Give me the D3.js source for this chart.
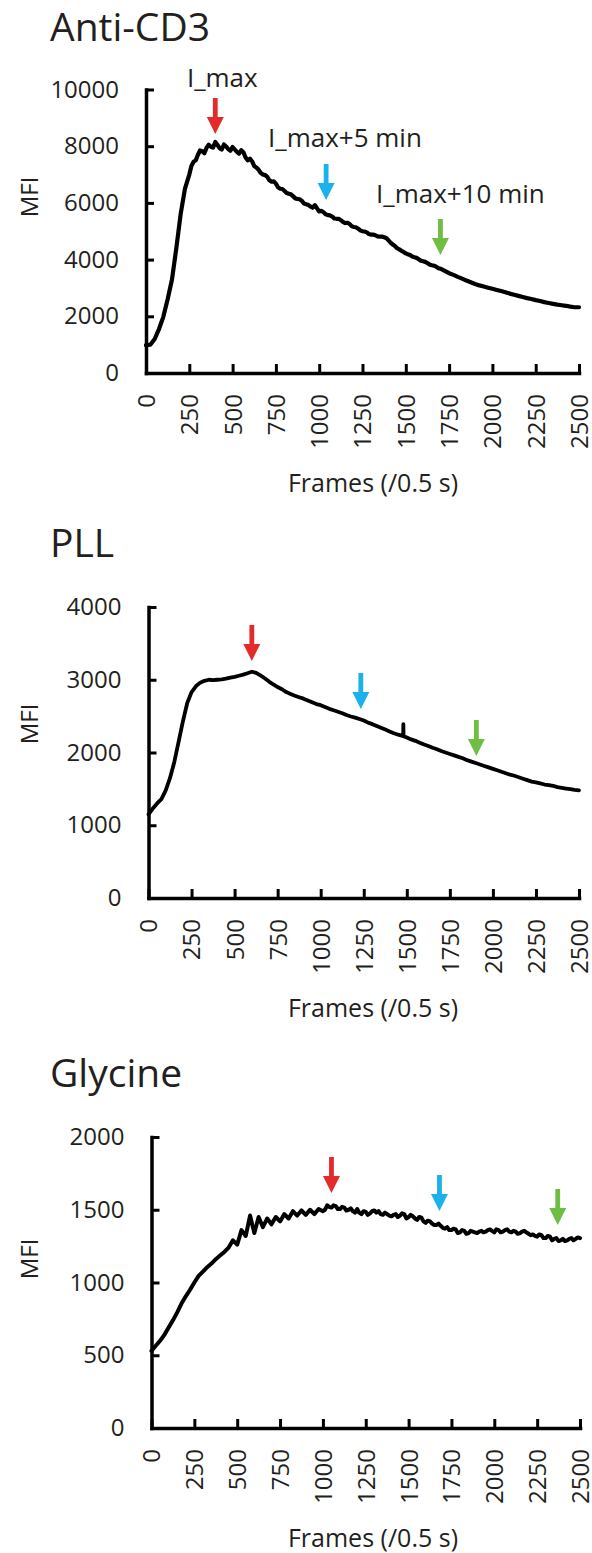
<!DOCTYPE html>
<html>
<head>
<meta charset="utf-8">
<script src="https://cdn.jsdelivr.net/npm/d3@7"></script>
<style>
  html, body { margin: 0; padding: 0; background: #fff; }
  svg { display: block; }
  text { font-family: "Open Sans", "Noto Sans", sans-serif; fill: #231f20; }
</style>
</head>
<body>
<svg id="fig" width="592" height="1553"></svg>
<script>
// ---- Data: [frame, MFI] traces, 0.5 s per frame ----
const antiCd3 = [
  [0,980],[25,1000],[50,1200],[75,1550],[100,1980],[125,2600],[150,3300],[175,4400],[200,5600],[225,6500],
  [250,7000],[275,7450],[300,7700],[325,7820],[350,7950],[375,7980],[400,8150],[425,7930],[450,8060],[475,7900],
  [500,7970],[525,7800],[550,7860],[575,7600],[600,7560],[625,7300],[650,7170],[675,7000],[700,6920],[725,6750],
  [750,6680],[775,6500],[800,6420],[825,6320],[850,6230],[875,6140],[900,6070],[925,5950],[950,5870],[975,5920],
  [1000,5700],[1025,5670],[1050,5570],[1075,5520],[1100,5440],[1125,5390],[1150,5290],[1175,5260],[1200,5150],[1225,5090],
  [1250,5000],[1275,4960],[1300,4880],[1325,4860],[1350,4810],[1375,4790],[1400,4680],[1425,4530],[1450,4400],[1475,4310],
  [1500,4220],[1525,4160],[1550,4080],[1575,4010],[1600,3940],[1625,3880],[1650,3800],[1675,3750],[1700,3680],[1725,3600],
  [1750,3520],[1775,3460],[1800,3390],[1825,3330],[1850,3260],[1875,3200],[1900,3140],[1925,3090],[1950,3050],[1975,3010],
  [2000,2970],[2025,2930],[2050,2890],[2075,2850],[2100,2800],[2125,2760],[2150,2720],[2175,2680],[2200,2640],[2225,2610],
  [2250,2570],[2275,2540],[2300,2500],[2325,2470],[2350,2440],[2375,2410],[2400,2390],[2425,2370],[2450,2340],[2475,2320],
  [2500,2320]
];
// extra samples through the noisy plateau and decay
const antiCd3Fine = [
  [262,7300],[287,7500],[312,7850],[337,7750],[362,8050],[387,7950],[412,8050],[437,7880],[462,7990],[487,7840],
  [512,7890],[537,7740],[562,7790],[587,7500],[612,7470],[637,7250],[662,7060],[687,6990],[712,6800],[737,6760],
  [762,6550],[787,6490],[812,6350],[837,6300],[862,6160],[887,6130],[912,5980],[937,5930],[962,5830],[987,5810],
  [1012,5720],[1037,5600],[1062,5560],[1087,5450],[1112,5440],[1137,5330],[1162,5300],[1187,5180],[1212,5140],[1237,5030],
  [1262,4990],[1287,4900],[1312,4880],[1337,4820],[1362,4810],[1387,4760],[1412,4600],[1437,4480],[1462,4360],[1487,4270],
  [1512,4190],[1537,4110],[1562,4060],[1587,3960],[1612,3920],[1637,3830],[1662,3790],[1687,3700]
];

const pll = [
  [0,1150],[25,1230],[50,1300],[75,1360],[100,1480],[125,1650],[150,1870],[175,2150],[200,2430],[225,2680],
  [250,2830],[275,2910],[300,2960],[325,2985],[350,3000],[375,2995],[400,3000],[425,3005],[450,3015],[475,3030],
  [500,3040],[525,3055],[550,3070],[575,3090],[600,3110],[625,3095],[650,3060],[675,3020],[700,2975],[725,2935],
  [750,2900],[775,2870],[800,2830],[825,2805],[850,2780],[875,2760],[900,2740],[925,2715],[950,2690],[975,2665],
  [1000,2650],[1025,2625],[1050,2600],[1075,2580],[1100,2560],[1125,2540],[1150,2515],[1175,2495],[1200,2480],[1225,2460],
  [1250,2440],[1275,2410],[1300,2390],[1325,2365],[1350,2340],[1375,2315],[1400,2290],[1425,2265],[1450,2245],[1475,2228],
  [1479,2226],[1480,2390],[1481,2224],[1500,2205],
  [1525,2180],[1550,2160],[1575,2135],[1600,2110],[1625,2090],[1650,2065],[1675,2045],[1700,2020],[1725,2000],
  [1750,1980],[1775,1960],[1800,1940],[1825,1920],[1850,1895],[1875,1875],[1900,1855],[1925,1835],[1950,1815],[1975,1795],
  [2000,1775],[2025,1755],[2050,1735],[2075,1715],[2100,1695],[2125,1680],[2150,1660],[2175,1640],[2200,1620],[2225,1600],
  [2250,1590],[2275,1575],[2300,1560],[2325,1550],[2350,1540],[2375,1525],[2400,1515],[2425,1505],[2450,1495],[2475,1485],
  [2500,1480]
];

const glycine = [
  [0,530],[25,565],[50,600],[75,640],[100,690],[125,740],[150,795],[175,855],[200,905],[225,950],
  [250,1000],[275,1045],[300,1075],[325,1105],[350,1130],[375,1160],[400,1185],[425,1210],[450,1240],[475,1290],
  [500,1260],[525,1360],[550,1320],[575,1460],[600,1340],[625,1450],[650,1380],[675,1440],[700,1400],[725,1450],
  [750,1420],[775,1470],[800,1440],[825,1490],[850,1460],[875,1495],[900,1465],[925,1500],[950,1470],[975,1505],
  [1000,1490],[1025,1530],[1050,1515],[1075,1525],[1100,1505],[1125,1515],[1150,1500],[1175,1490],[1200,1505],[1225,1470],
  [1250,1485],[1275,1475],[1300,1495],[1325,1490],[1350,1465],[1375,1470],[1400,1455],[1425,1470],[1450,1460],[1475,1470],
  [1500,1450],[1525,1455],[1550,1430],[1575,1445],[1600,1410],[1625,1420],[1650,1395],[1675,1405],[1700,1375],[1725,1380],
  [1750,1360],[1775,1365],[1800,1345],[1825,1355],[1850,1340],[1875,1350],[1900,1340],[1925,1355],[1950,1350],[1975,1365],
  [2000,1345],[2025,1360],[2050,1350],[2075,1365],[2100,1345],[2125,1350],[2150,1340],[2175,1355],[2200,1335],[2225,1330],
  [2250,1315],[2275,1325],[2300,1305],[2325,1315],[2350,1300],[2375,1285],[2400,1300],[2425,1290],[2450,1305],[2475,1300],
  [2500,1305]
];
// extra samples through the fluctuating plateau
const glycineFine = [
  [1012,1500],[1037,1520],[1062,1530],[1087,1505],[1112,1520],[1137,1495],[1162,1510],[1187,1480],[1212,1480],[1237,1490],
  [1262,1465],[1287,1490],[1312,1480],[1337,1470],[1362,1480],[1387,1460],[1412,1465],[1437,1450],[1462,1475],[1487,1440],
  [1512,1465],[1537,1440],[1562,1450],[1587,1420],[1612,1425],[1637,1405],[1662,1395],[1687,1390],[1712,1370],[1737,1360],
  [1762,1370],[1787,1340],[1812,1360],[1837,1335],[1862,1355],[1887,1345],[1912,1350],[1937,1345],[1962,1360],[1987,1355],
  [2012,1365],[2037,1345],[2062,1360],[2087,1350],[2112,1355],[2137,1335],[2162,1350],[2187,1345],[2212,1325],[2237,1320],
  [2262,1330],[2287,1305],[2312,1320],[2337,1290],[2362,1305],[2387,1290],[2412,1285],[2437,1300],[2462,1290],[2487,1310]
];

// Arrow markers: I_max, I_max+5 min, I_max+10 min (frame, MFI at arrow tip)
const markerLabels = ["I_max", "I_max+5 min", "I_max+10 min"];
const markerColors = ["#e32b2b", "#19b2ea", "#6fbe44"];
const antiCd3Markers = [[400, 8430], [1040, 6100], [1700, 4160]];
const pllMarkers = [[600, 3258], [1233, 2598], [1904, 1952]];
const glycineMarkers = [[1050, 1615], [1680, 1491], [2370, 1395]];

const xTicks = [0, 250, 500, 750, 1000, 1250, 1500, 1750, 2000, 2250, 2500];
const antiCd3YTicks = [0, 2000, 4000, 6000, 8000, 10000];
const pllYTicks = [0, 1000, 2000, 3000, 4000];
const glycineYTicks = [0, 500, 1000, 1500, 2000];

const titles = ["Anti-CD3", "PLL", "Glycine"];
const xTitle = "Frames (/0.5 s)";
const yTitle = "MFI";

const byFrame = (a, b) => a[0] - b[0];

// ---- Layout of the three stacked panels ----
const panels = [
  { title: titles[0], data: antiCd3.concat(antiCd3Fine).sort(byFrame), markers: antiCd3Markers, yTicks: antiCd3YTicks,
    left: 146, right: 579, top: 89.5, bottom: 373, titleY: 41, mfiY: 197, lineW: 4.2, showLabels: true },
  { title: titles[1], data: pll, markers: pllMarkers, yTicks: pllYTicks,
    left: 148.5, right: 579, top: 607, bottom: 898, titleY: 557, mfiY: 724, lineW: 3.8, showLabels: false },
  { title: titles[2], data: glycine.concat(glycineFine).sort(byFrame), markers: glycineMarkers, yTicks: glycineYTicks,
    left: 151.5, right: 580, top: 1137, bottom: 1428, titleY: 1087, mfiY: 1259, lineW: 4.0, showLabels: false }
];

const svg = d3.select("#fig");
const axisW = 3.5;

panels.forEach(p => {
  const g = svg.append("g");
  const x = d3.scaleLinear().domain([0, 2500]).range([p.left, p.right]);
  const y = d3.scaleLinear().domain([0, d3.max(p.yTicks)]).range([p.bottom, p.top]);

  // panel title
  g.append("text").attr("x", 50).attr("y", p.titleY)
    .style("font-size", "39px").text(p.title);

  // y axis
  const yAxis = g.append("g").attr("transform", `translate(${p.left},0)`)
    .call(d3.axisLeft(y).tickValues(p.yTicks).tickFormat(d3.format("d"))
      .tickSizeInner(-8).tickSizeOuter(0).tickPadding(27));
  yAxis.select(".domain").attr("stroke", "#000").attr("stroke-width", axisW).attr("stroke-linecap", "square");
  yAxis.selectAll(".tick line").attr("stroke", "#000").attr("stroke-width", 3);
  yAxis.selectAll(".tick text").style("font-size", "24px").attr("fill", "#231f20")
    .style("font-family", "'Open Sans', sans-serif");

  // x axis
  const xAxis = g.append("g").attr("transform", `translate(0,${p.bottom})`)
    .call(d3.axisBottom(x).tickValues(xTicks).tickFormat(d3.format("d"))
      .tickSizeInner(-9).tickSizeOuter(0));
  xAxis.select(".domain").attr("stroke", "#000").attr("stroke-width", axisW).attr("stroke-linecap", "square");
  xAxis.selectAll(".tick line").attr("stroke", "#000").attr("stroke-width", 3);
  xAxis.selectAll(".tick text")
    .attr("transform", "rotate(-90)").attr("x", -21).attr("y", 0).attr("dy", "0.35em")
    .style("text-anchor", "end").style("font-size", "24px").attr("fill", "#231f20")
    .style("font-family", "'Open Sans', sans-serif");

  // axis titles
  g.append("text").attr("x", 373).attr("y", p.bottom + 119)
    .attr("text-anchor", "middle").style("font-size", "25px").text(xTitle);
  g.append("text").attr("transform", `translate(38,${p.mfiY}) rotate(-90)`)
    .attr("text-anchor", "middle").style("font-size", "24px").text(yTitle);

  // trace
  const line = d3.line().x(d => x(d[0])).y(d => y(d[1]));
  g.append("path").datum(p.data).attr("d", line)
    .attr("fill", "none").attr("stroke", "#000").attr("stroke-width", p.lineW)
    .attr("stroke-linejoin", "round").attr("stroke-linecap", "round");

  // arrows
  p.markers.forEach((m, i) => {
    const ax = x(m[0]), ay = y(m[1]);
    const path = d3.path();
    path.moveTo(ax - 2.4, ay - 36);
    path.lineTo(ax + 2.4, ay - 36);
    path.lineTo(ax + 2.4, ay - 17);
    path.lineTo(ax + 8.5, ay - 17);
    path.lineTo(ax, ay);
    path.lineTo(ax - 8.5, ay - 17);
    path.lineTo(ax - 2.4, ay - 17);
    path.closePath();
    g.append("path").attr("d", path.toString()).attr("fill", markerColors[i]);
  });

  if (p.showLabels) {
    const lx = [x(p.markers[0][0]) + 7, 268, 376];
    const ly = [87, 147, 203];
    const anchors = ["middle", "start", "start"];
    markerLabels.forEach((t, i) => {
      g.append("text").attr("x", lx[i]).attr("y", ly[i]).attr("text-anchor", anchors[i])
        .style("font-size", "26px").text(t);
    });
  }
});
</script>
</body>
</html>
